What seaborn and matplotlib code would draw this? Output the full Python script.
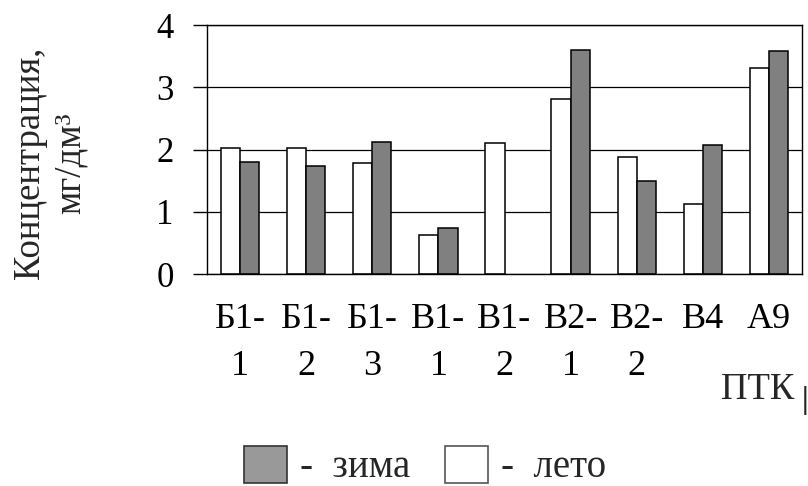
import numpy as np
import pandas as pd
import matplotlib
matplotlib.use("Agg")
import matplotlib.pyplot as plt
from matplotlib.patches import Patch
import seaborn as sns

# Concentration by landscape complex (ПТК), summer vs winter, mg/dm3
categories = ["Б1-\n1", "Б1-\n2", "Б1-\n3", "В1-\n1", "В1-\n2",
              "В2-\n1", "В2-\n2", "В4", "А9"]
leto = [2.02, 2.02, 1.78, 0.63, 2.10, 2.81, 1.89, 1.12, 3.31]
zima = [1.80, 1.74, 2.12, 0.75, np.nan, 3.60, 1.50, 2.07, 3.58]
seasons = ["лето", "зима"]
y_ticks = [0, 1, 2, 3, 4]

df = pd.DataFrame({
    "ptk": categories * 2,
    "season": ["лето"] * len(categories) + ["зима"] * len(categories),
    "value": leto + zima,
})

sns.set_style("white")
plt.rcParams["font.family"] = ["Liberation Serif", "DejaVu Serif"]

fig = plt.figure(figsize=(8.08, 4.86), dpi=100)
W, H = 808, 486
ax = fig.add_axes([207 / W, 1 - 274.3 / H, (802 - 207) / W, (274.3 - 25) / H])

sns.barplot(data=df, x="ptk", y="value", hue="season", order=categories,
            hue_order=seasons, palette={"лето": "white", "зима": "#808080"},
            width=0.58, edgecolor="black", linewidth=1.1, legend=False, ax=ax)

ax.set_xlim(-0.5, len(categories) - 0.5)
ax.set_ylim(0, 4)
ax.set_yticks(y_ticks)
ax.set_yticklabels([str(t) for t in y_ticks])
ax.set_xlabel("")
ax.set_ylabel("")

ax.set_axisbelow(True)
ax.yaxis.grid(True, color="black", linewidth=0.9)
ax.xaxis.grid(False)
for s in ax.spines.values():
    s.set_visible(True)
    s.set_color("black")
    s.set_linewidth(1.0)

ax.set_xticks(np.arange(len(categories) + 1) - 0.5, minor=True)
ax.tick_params(axis="x", which="major", length=0, pad=21, labelsize=26,
               colors="black")
ax.tick_params(axis="x", which="minor", direction="inout", length=16,
               width=1, color="black")
ax.tick_params(axis="y", direction="out", length=10, width=1, pad=14,
               labelsize=25, colors="black")
ax.tick_params(left=True, bottom=True)
for t in ax.get_xticklabels():
    t.set_linespacing(1.55)

fig.text(50 / W, 1 - 163 / H, "Концентрация,\nмг/дм³", rotation=90,
         ha="center", va="center", fontsize=26.5, multialignment="center",
         linespacing=1.2)
fig.text(794 / W, 1 - 390 / H, "ПТК", ha="right", va="center", fontsize=26.5)
fig.text(805 / W, 1 - 400 / H, "|", ha="center", va="center", fontsize=22,
         fontweight="bold")

handles = [Patch(facecolor="#999999", edgecolor="#333333", linewidth=1.2),
           Patch(facecolor="white", edgecolor="#555555", linewidth=1.2)]
fig.legend(handles, ["-  зима", "-  лето"], loc="center",
           bbox_to_anchor=(425 / W, 1 - 466 / H), ncol=2, frameon=False,
           fontsize=28, handlelength=1.1, handleheight=1.1,
           handletextpad=0.33, columnspacing=0.9, borderpad=0)

fig.savefig("out.png", dpi=100)
